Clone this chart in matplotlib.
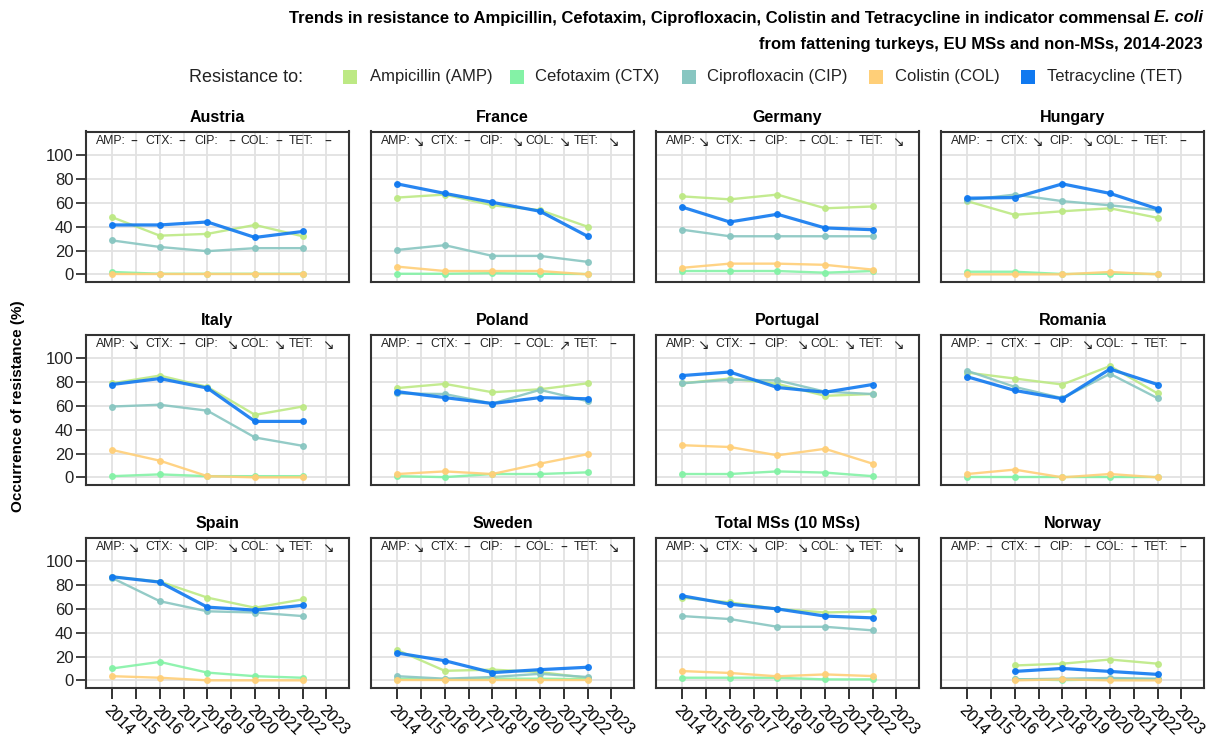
import numpy as np
import matplotlib.pyplot as plt
from matplotlib.patches import Rectangle

plt.rcParams['font.family'] = ['Liberation Sans', 'DejaVu Sans']

years = [2014, 2016, 2018, 2020, 2022]
all_years = list(range(2014, 2024))
countries = ['Austria', 'France', 'Germany', 'Hungary',
             'Italy', 'Poland', 'Portugal', 'Romania',
             'Spain', 'Sweden', 'Total MSs (10 MSs)', 'Norway']
nan = np.nan

# occurrence of resistance (%), one row per country
amp = [[48, 32.5, 34, 41.5, 32],
       [64.5, 67, 58, 54, 40],
       [65.5, 63, 67, 55.5, 57],
       [61.5, 50, 53, 55.5, 47.5],
       [79, 85.5, 76, 52.5, 59.5],
       [75, 78.5, 71.5, 74, 79],
       [79, 83, 78.5, 68.5, 70],
       [88, 83, 78, 93.5, 70.5],
       [87, 83, 69.5, 61, 68],
       [25.5, 8, 9, 7, 2],
       [69.5, 65.5, 60, 57, 58],
       [nan, 12.5, 14, 17.5, 14]]
ctx = [[2, 0.5, 0.5, 0.5, 0.5],
       [0.5, 0.5, 1, 0.5, 0.3],
       [2.8, 2.8, 2.8, 1.4, 2.8],
       [2.2, 2.2, 0.3, 0.5, 0.3],
       [1, 2.5, 1, 1, 1],
       [1, 0.2, 2.8, 2.8, 4.2],
       [2.8, 2.8, 5, 4, 1],
       [0.3, 0.3, 0.3, 0.3, 0.3],
       [10, 15.5, 6.5, 3.5, 2.2],
       [1.4, 0.8, 1.4, 1.4, 1],
       [2.2, 2.2, 2.2, 0.8, 0.8],
       [nan, 1, 0.2, 0.8, 0.8]]
cip = [[28.5, 23, 19.5, 22, 22],
       [20.5, 24.5, 15.5, 15.5, 10.5],
       [37.5, 32, 32, 32, 32],
       [62.5, 67, 61.5, 58, 54],
       [59.5, 61, 56, 33.5, 26.5],
       [70.5, 70, 62, 73.5, 64],
       [79, 82, 81.5, 72, 70],
       [89.5, 76, 66.5, 87, 66.5],
       [86, 66.5, 58, 57, 54],
       [3.5, 1.4, 2.8, 5.5, 2.8],
       [54, 51.5, 45, 45, 42],
       [nan, 0.8, 1.4, 2, 1.4]]
col = [[0, 0, 0, 0, 0],
       [6.5, 2.8, 2.8, 2.8, 0],
       [5.5, 9, 9, 8, 4],
       [0, 0, 0, 2, 0],
       [23, 14, 1, 0, 0],
       [2.8, 5, 2.8, 11.5, 19.5],
       [27, 25.5, 18.5, 24, 11.5],
       [2.8, 6.5, 0, 2.8, 0],
       [3.5, 2.2, 0, 0, 0],
       [0, 0, 0, 0, 0],
       [7.8, 6.2, 3.4, 5, 3.6],
       [nan, 0, 0.8, 0, 0]]
tet = [[41.5, 41.5, 44, 31, 36],
       [76, 68, 60.5, 53, 32],
       [56.5, 44, 50.5, 39, 37.5],
       [64, 64.5, 76, 68, 55],
       [78, 83, 75, 47, 47],
       [72, 67, 62, 67, 66],
       [85.5, 88.5, 75.5, 71.5, 78],
       [84.5, 73, 66, 91, 78],
       [87, 82.5, 61.5, 59, 63],
       [23, 16.5, 6.5, 9, 11],
       [71, 64, 60, 54, 52.5],
       [nan, 7.5, 10, 7.5, 5]]

# trend arrows per country
t_amp = ['–', '↘', '↘', '–', '↘', '–', '↘', '–', '↘', '↘', '↘', '–']
t_ctx = ['–', '–', '–', '↘', '–', '–', '–', '–', '↘', '–', '↘', '–']
t_cip = ['–', '↘', '–', '↘', '↘', '–', '↘', '↘', '↘', '–', '↘', '–']
t_col = ['–', '↘', '–', '–', '↘', '↗', '↘', '–', '↘', '–', '↘', '–']
t_tet = ['–', '↘', '↘', '–', '↘', '–', '↘', '–', '↘', '↘', '↘', '–']

codes = ['AMP', 'CTX', 'CIP', 'COL', 'TET']
labels = ['Ampicillin (AMP)', 'Cefotaxim (CTX)', 'Ciprofloxacin (CIP)',
          'Colistin (COL)', 'Tetracycline (TET)']
colors = ['#bde984', '#84f2a6', '#88c6c1', '#ffcf78', '#1079f0']
series = [amp, ctx, cip, col, tet]
trends = [t_amp, t_ctx, t_cip, t_col, t_tet]

W, H = 1211, 742
fig = plt.figure(figsize=(W / 100, H / 100), dpi=100)

lefts = [86, 371, 656, 941]
tops = [131.5, 334.5, 537.5]
aw, ah = 263, 150

lab_x = [0.038, 0.224, 0.412, 0.587, 0.772]
sym_x = [0.18, 0.365, 0.554, 0.735, 0.919]

for i, name in enumerate(countries):
    r, k = divmod(i, 4)
    ax = fig.add_axes([lefts[k] / W, 1 - (tops[r] + ah) / H, aw / W, ah / H])
    for j in range(5):
        lw = 2.3 if codes[j] == 'TET' else 1.7
        ax.plot(years, series[j][i], color=colors[j], lw=lw, marker='o',
                markersize=4, alpha=0.9, zorder=3 + j)
    ax.set_xlim(2012.9, 2023.95)
    ax.set_ylim(-6, 120)
    ax.set_xticks(all_years)
    ax.set_yticks([0, 20, 40, 60, 80, 100])
    ax.grid(True, color='#e2e2e2', lw=1.3)
    ax.set_axisbelow(True)
    for s in ax.spines.values():
        s.set_color('#333333')
        s.set_linewidth(1.5)
    ax.set_title(name, fontsize=11.5, fontweight='bold', pad=7)

    if r == 2:
        ax.set_xticklabels([str(y) for y in all_years], rotation=-45,
                           ha='left', va='top', rotation_mode='anchor',
                           fontsize=11.5)
        ax.tick_params(axis='x', length=8, width=1.3, color='#222222', pad=3)
    else:
        ax.set_xticklabels([])
        ax.tick_params(axis='x', length=0)
    if k == 0:
        ax.tick_params(axis='y', labelsize=12, length=7, width=1.2,
                       color='#222222', pad=2, labelcolor='#222222')
    else:
        ax.set_yticklabels([])
        ax.tick_params(axis='y', length=0)

    for j in range(5):
        ax.text(lab_x[j], 0.935, codes[j] + ':', transform=ax.transAxes,
                fontsize=8.8, va='center', ha='left', color='#222222')
        ax.text(sym_x[j], 0.93, trends[j][i], transform=ax.transAxes,
                fontsize=10, va='center', ha='center', color='#222222',
                family=['DejaVu Sans'])

fig.text(18 / W, 1 - 406 / H, 'Occurrence of resistance (%)', rotation=90,
         fontsize=11, fontweight='bold', ha='center', va='center')

# title: right-aligned, "E. coli" in bold italic
rx = 1203 / W
t_it = fig.text(rx, 1 - 18 / H, 'E. coli', fontsize=12, fontweight='bold',
                fontstyle='italic', ha='right', va='center')
renderer = fig.canvas.get_renderer()
wpx = t_it.get_window_extent(renderer).width
fig.text(rx - (wpx + 4) / W, 1 - 18 / H,
         'Trends in resistance to Ampicillin, Cefotaxim, Ciprofloxacin, '
         'Colistin and Tetracycline in indicator commensal',
         fontsize=12, fontweight='bold', ha='right', va='center')
fig.text(rx, 1 - 44 / H, 'from fattening turkeys, EU MSs and non-MSs, 2014-2023',
         fontsize=12, fontweight='bold', ha='right', va='center')

# legend drawn by hand so each entry sits where it does in the original
fig.text(189 / W, 1 - 77 / H, 'Resistance to:', fontsize=13,
         ha='left', va='center', color='#222222')
patch_x = [343, 510, 682, 869, 1021]
label_x = [370, 535, 707, 895, 1047]
ps = 14
for j in range(5):
    fig.patches.append(Rectangle((patch_x[j] / W, 1 - (77 + ps / 2) / H),
                                 ps / W, ps / H, transform=fig.transFigure,
                                 facecolor=colors[j], edgecolor='none'))
    fig.text(label_x[j] / W, 1 - 77 / H, labels[j], fontsize=12,
             ha='left', va='center', color='#222222')

fig.savefig('out.png', dpi=100)
